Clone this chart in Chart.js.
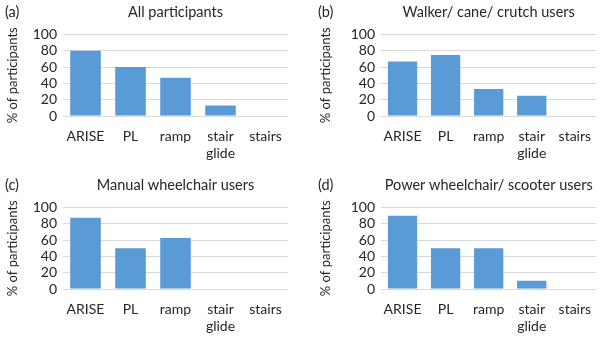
<!DOCTYPE html>
<html>
<head>
<meta charset="utf-8">
<script src="https://cdn.jsdelivr.net/npm/chart.js@4"></script>
<style>
  html, body { margin: 0; padding: 0; background: #fff; }
  body { width: 604px; height: 340px; position: relative; overflow: hidden; }
  .panel { position: absolute; width: 302px; height: 167px; }
</style>
</head>
<body>
<div class="panel" style="left:0;top:0"><canvas id="ca"></canvas></div>
<div class="panel" style="left:302px;top:0"><canvas id="cb"></canvas></div>
<div class="panel" style="left:0;top:173px"><canvas id="cc"></canvas></div>
<div class="panel" style="left:302px;top:173px"><canvas id="cd"></canvas></div>
<script>
const categories = ["ARISE", "PL", "ramp", ["stair", "glide"], "stairs"];
const yTicks = [0, 20, 40, 60, 80, 100];
const panelLabels = ["(a)", "(b)", "(c)", "(d)"];
const panelTitles = ["All participants", "Walker/ cane/ crutch users", "Manual wheelchair users", "Power wheelchair/ scooter users"];
const valuesAll = [80, 60, 47, 13, 0];
const valuesWalker = [67, 75, 33, 25, 0];
const valuesManual = [87.5, 50, 62.5, 0, 0];
const valuesPower = [90, 50, 50, 10, 0];
const yAxisTitle = "% of participants";

const FONT = "Lato, 'Open Sans', sans-serif";
const TEXT = "#262626";
const BAR = "#5b9bd5";
const GRID = "#d9d9d9";

const panelTitlePlugin = {
  id: 'panelTitle',
  afterDraw(chart, args, opts) {
    const ctx = chart.ctx;
    const a = chart.chartArea;
    ctx.save();
    ctx.fillStyle = TEXT;
    ctx.textBaseline = 'middle';
    ctx.font = "14.5px " + FONT;
    ctx.textAlign = 'center';
    ctx.fillText(opts.title, (a.left + a.right) / 2, 12);
    ctx.textAlign = 'left';
    ctx.fillText(opts.label, opts.labelX, 12);
    ctx.restore();
  }
};

function makeChart(id, values, idx, geo) {
  const H = 167;
  new Chart(document.getElementById(id), {
    type: 'bar',
    data: {
      labels: categories,
      datasets: [{ data: values, backgroundColor: BAR, barPercentage: 0.68, categoryPercentage: 1 }]
    },
    plugins: [panelTitlePlugin],
    options: {
      responsive: true,
      maintainAspectRatio: false,
      animation: false,
      devicePixelRatio: 1,
      layout: { padding: { top: geo.top, right: geo.right, left: 0, bottom: 0 } },
      plugins: {
        legend: { display: false },
        tooltip: { enabled: false },
        panelTitle: { title: panelTitles[idx], label: panelLabels[idx], labelX: geo.labelX }
      },
      scales: {
        x: {
          grid: { display: false, drawTicks: false },
          border: { display: false },
          ticks: { color: TEXT, font: { family: FONT, size: 14, lineHeight: 1.19 }, padding: 12.3, maxRotation: 0, autoSkip: false },
          afterFit(s) { s.height = H - geo.bottom; }
        },
        y: {
          min: 0, max: 100,
          afterBuildTicks(s) { s.ticks = yTicks.map(v => ({ value: v })); },
          grid: { color: GRID, drawTicks: false, lineWidth: 1 },
          border: { display: false },
          ticks: { color: TEXT, font: { family: FONT, size: 14 }, padding: 6, autoSkip: false },
          title: { display: true, text: yAxisTitle, color: TEXT, font: { family: FONT, size: 13, lineHeight: 1.2 }, padding: { top: geo.titlePad, bottom: 0 } },
          afterFit(s) { s.width = geo.left; }
        }
      }
    }
  });
}

makeChart('ca', valuesAll, 0, { top: 34.5, bottom: 116, left: 63, right: 14, titlePad: 5.2, labelX: 5 });
makeChart('cb', valuesWalker, 1, { top: 34.5, bottom: 116, left: 79, right: 6, titlePad: 16.2, labelX: 16 });
makeChart('cc', valuesManual, 2, { top: 34.5, bottom: 116, left: 63, right: 14, titlePad: 5.2, labelX: 5 });
makeChart('cd', valuesPower, 3, { top: 34.5, bottom: 116, left: 79, right: 6, titlePad: 16.2, labelX: 16 });
</script>
</body>
</html>
